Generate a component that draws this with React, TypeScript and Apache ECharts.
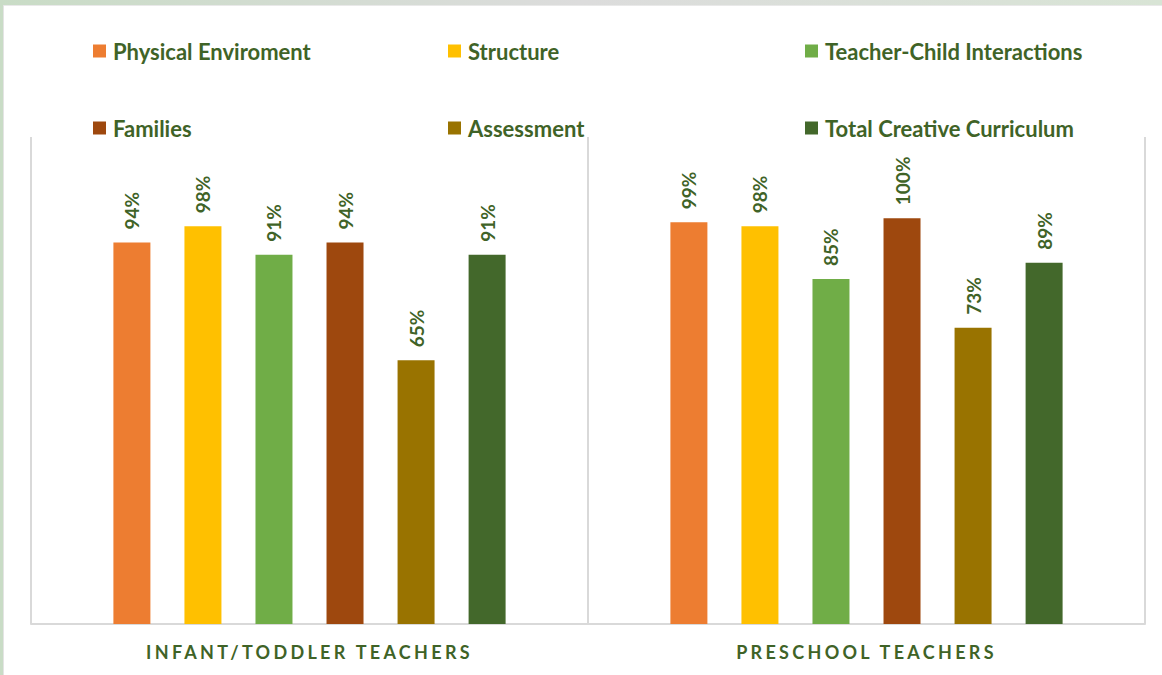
import React, { useEffect, useRef } from "react";
import * as echarts from "echarts";

const categories = ["INFANT/TODDLER TEACHERS", "PRESCHOOL TEACHERS"];
const seriesNames = [
  "Physical Enviroment",
  "Structure",
  "Teacher-Child Interactions",
  "Families",
  "Assessment",
  "Total Creative Curriculum",
];
const physical = [94, 99];
const structure = [98, 98];
const interactions = [91, 85];
const families = [94, 100];
const assessment = [65, 73];
const totalCC = [91, 89];
const seriesValues = [physical, structure, interactions, families, assessment, totalCC];
const colors = ["#ED7D31", "#FFC000", "#70AD47", "#9E480E", "#997300", "#43682B"];
const legendLefts = [93, 448, 805, 93, 448, 805];
const legendTops = [40, 40, 40, 117, 117, 117];

const TEXT = "#3F6327";

export default function App() {
  const ref = useRef<HTMLDivElement>(null);
  useEffect(() => {
    document.body.style.margin = "0";
    const chart = echarts.init(ref.current!, null, { renderer: "svg" });
    const option: any = {
      animation: false,
      backgroundColor: "#ffffff",
      graphic: [
        {
          type: "rect",
          shape: { x: 0, y: 0, width: 1162, height: 5 },
          style: {
            fill: new echarts.graphic.LinearGradient(0, 0, 1, 0, [
              { offset: 0, color: "#c9dcc6" },
              { offset: 0.5, color: "#dcdcdc" },
              { offset: 1, color: "#d8e4d5" },
            ]),
          },
          z: 100,
        },
        { type: "rect", shape: { x: 0, y: 5, width: 1162, height: 1 }, style: { fill: "#e9e9e9" }, z: 100 },
        { type: "rect", shape: { x: 0, y: 0, width: 3, height: 675 }, style: { fill: "#c9dcc6" }, z: 100 },
        { type: "rect", shape: { x: 3, y: 5, width: 1, height: 670 }, style: { fill: "#e4e4e4" }, z: 100 },
      ],
      legend: seriesNames.map((n, i) => ({
        data: [n],
        left: legendLefts[i],
        top: legendTops[i],
        icon: "rect",
        itemWidth: 13,
        itemHeight: 13,
        itemGap: 0,
        padding: 0,
        selectedMode: false,
        textStyle: {
          color: TEXT,
          fontFamily: "Lato",
          fontWeight: "bold",
          fontSize: 22,
          padding: [0, 0, 0, 2],
        },
      })),
      grid: { left: 31, right: 17, top: 137, bottom: 51 },
      xAxis: {
        type: "category",
        data: categories,
        axisLine: { show: true, lineStyle: { color: "#d9d9d9", width: 2 } },
        axisTick: { show: false },
        splitLine: { show: true, lineStyle: { color: "#d9d9d9", width: 2 } },
        axisLabel: {
          color: TEXT,
          fontFamily: "Lato",
          fontWeight: "bold",
          fontSize: 18,
          margin: 19,
        },
      },
      yAxis: {
        type: "value",
        min: 0,
        max: 120,
        show: false,
        splitLine: { show: false },
      },
      series: seriesNames.map((n, i) => ({
        name: n,
        type: "bar",
        data: seriesValues[i],
        barWidth: 37,
        barGap: "92%",
        itemStyle: { color: colors[i] },
        label: {
          show: true,
          position: "top",
          rotate: 90,
          align: "left",
          verticalAlign: "middle",
          distance: 13,
          formatter: "{c}%",
          color: TEXT,
          fontFamily: "Lato",
          fontWeight: "bold",
          fontSize: 19,
        },
      })),
    };
    chart.setOption(option);
    const applySpacing = () => {
      const texts = ref.current?.querySelectorAll("text") || [];
      texts.forEach((t: any) => {
        if (categories.includes((t.textContent || "").trim())) {
          t.style.letterSpacing = "3.3px";
        }
      });
    };
    applySpacing();
    chart.on("finished", applySpacing);
    return () => chart.dispose();
  }, []);
  return <div ref={ref} style={{ width: 1162, height: 675 }} />;
}
